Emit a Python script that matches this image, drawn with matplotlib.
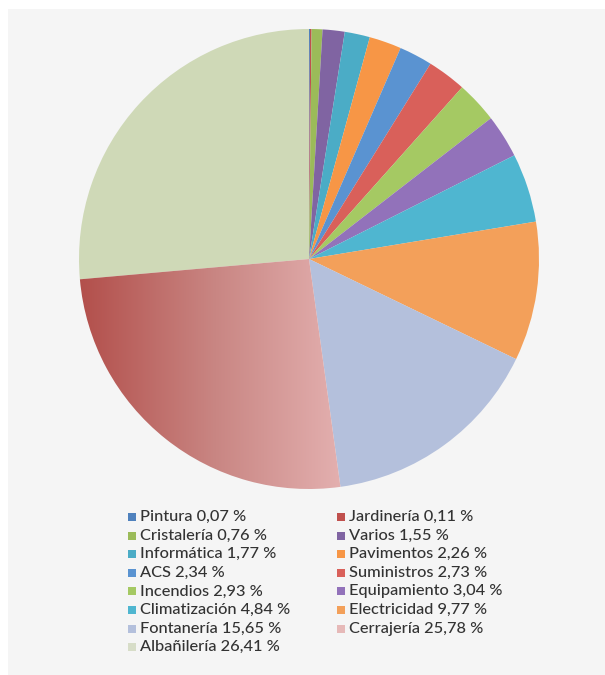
import numpy as np
import matplotlib; matplotlib.use('Agg')
import matplotlib.pyplot as plt
from matplotlib.patches import Rectangle
import matplotlib.colors as mcolors

plt.rcParams['font.family'] = ['Lato', 'DejaVu Sans']

# ── data (clockwise from 12 o'clock) ──────────────────────────────────────
labels = ['Pintura', 'Jardinería', 'Cristalería', 'Varios', 'Informática',
          'Pavimentos', 'ACS', 'Suministros', 'Incendios', 'Equipamiento',
          'Climatización', 'Electricidad', 'Fontanería', 'Cerrajería', 'Albañilería']
values = [0.07, 0.11, 0.76, 1.55, 1.77, 2.26, 2.34, 2.73, 2.93, 3.04,
          4.84, 9.77, 15.65, 25.78, 26.41]
colors = ['#4F81BD', '#C0504D', '#9BBB59', '#8064A2', '#4BACC6', '#F79646',
          '#5A93D1', '#D9605A', '#A5C963', '#9272BA', '#4FB6D0', '#F3A05A',
          '#B4C0DC', '#E3B0B0', '#CFD9B7']
legend_colors = colors[:13] + ['#E6B9B8', '#D7DDC8']

W, H = 605, 675
fig = plt.figure(figsize=(W/100, H/100), dpi=100, facecolor='white')
fig.patches.append(Rectangle((8/W, 0), 1, 1 - 9/H, transform=fig.transFigure,
                             facecolor='#F5F5F5', edgecolor='none', zorder=-10))

# pie axes: centre (309,259) px, radius 230 px
cx, cy, r = 309, 259, 230
ax = fig.add_axes([(cx - r)/W, 1 - (cy + r)/H, 2*r/W, 2*r/H])
wedges, _ = ax.pie(values, colors=colors, startangle=90, counterclock=False,
                   radius=1, wedgeprops=dict(linewidth=0))

# Cerrajería has a left-to-right gradient
wc = wedges[labels.index('Cerrajería')]
grad = mcolors.LinearSegmentedColormap.from_list('cer', ['#B24E4A', '#C98683', '#E6B4B4'])
img = ax.imshow(np.linspace(0, 1, 256)[None, :], cmap=grad, aspect='auto',
                extent=[-1.01, 0.2, -1.01, 0.15], zorder=2)
img.set_clip_path(wc)
wc.set_facecolor('none')
ax.set_xlim(-1, 1); ax.set_ylim(-1, 1); ax.set_aspect('equal'); ax.axis('off')

# ── legend, filled row by row ─────────────────────────────────────────────
col_x = [128, 337]
y0, dy = 517, 18.6
for i, (lab, val, c) in enumerate(zip(labels, values, legend_colors)):
    row, col = divmod(i, 2)
    x = col_x[col]; y = y0 + row*dy
    fig.patches.append(Rectangle((x/W, 1 - (y + 4)/H), 8/W, 8/H,
                                 transform=fig.transFigure, facecolor=c, edgecolor='none'))
    txt = f'{lab} {val:.2f} %'.replace('.', ',')
    fig.text((x + 12)/W, 1 - y/H, txt, fontsize=11.8, color='#333333',
             va='center', ha='left', fontweight='medium')

fig.savefig('out.png', dpi=100, facecolor='white')
